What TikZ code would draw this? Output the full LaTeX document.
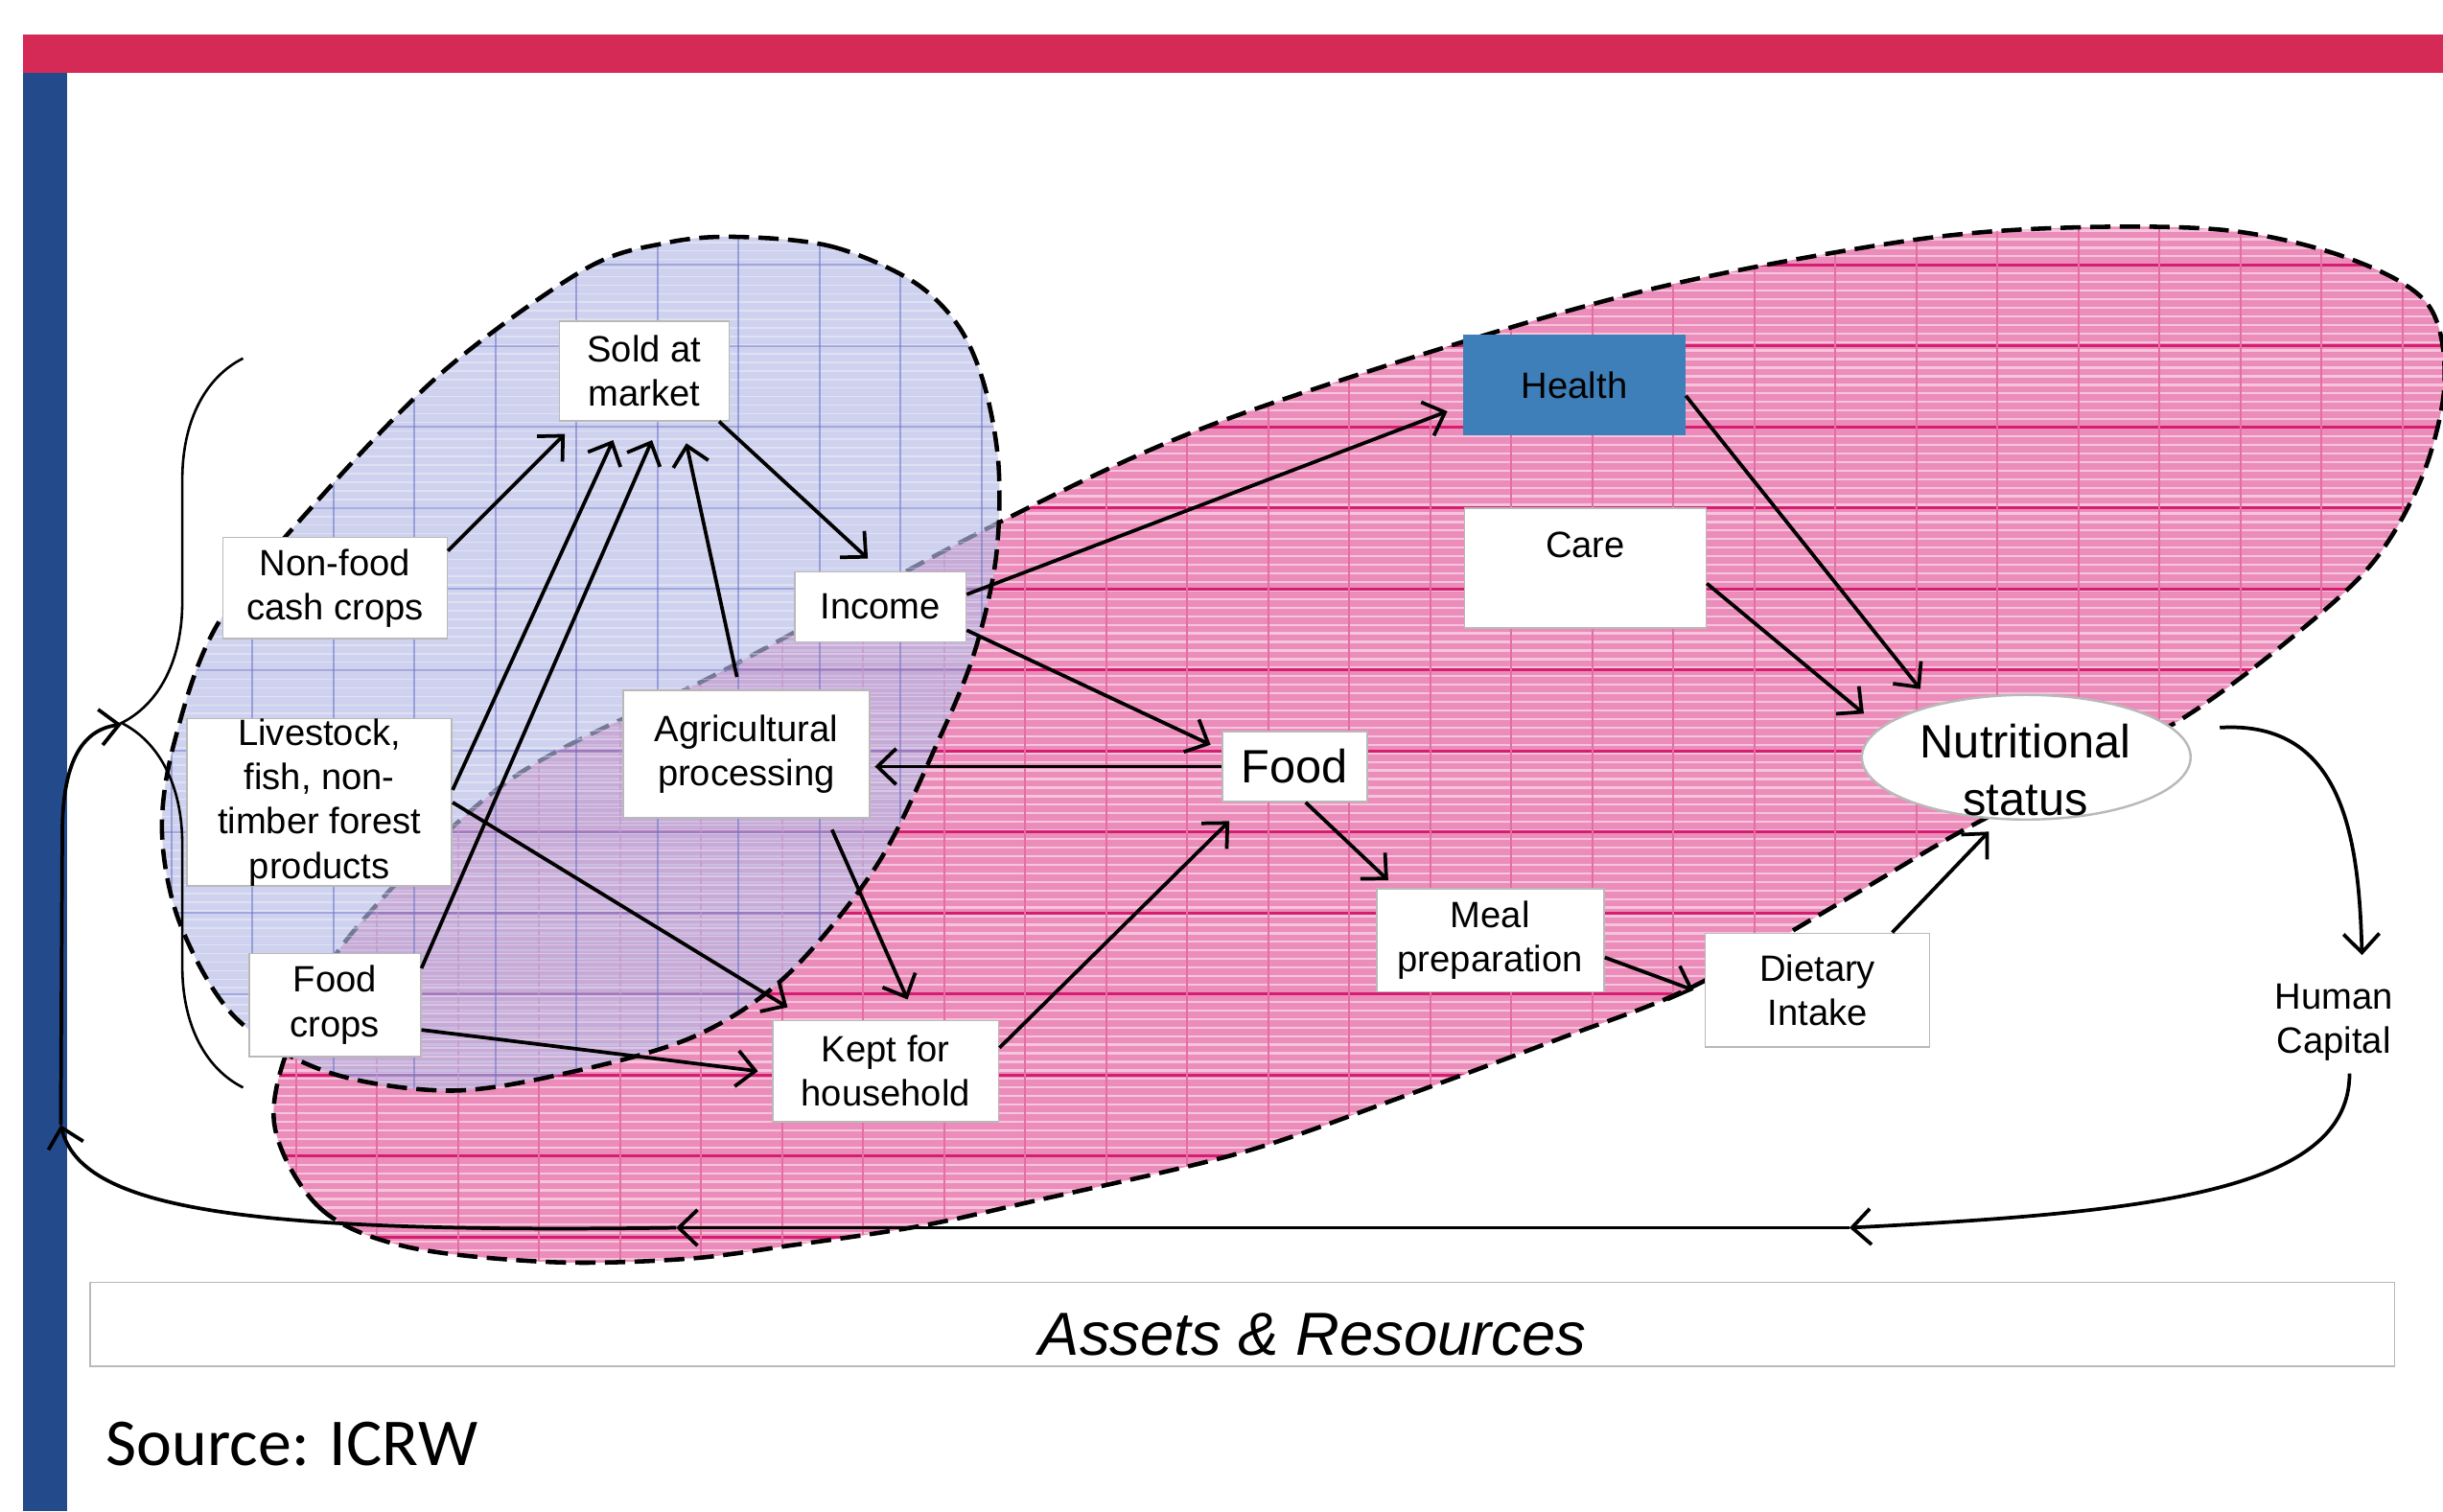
\documentclass[tikz,border=0pt]{standalone}
\usepackage{fontspec}
\setmainfont{Liberation Sans}
\newfontfamily\srcfont{Carlito}
\usetikzlibrary{arrows.meta,shapes.geometric,decorations.pathreplacing}

\definecolor{barred}{RGB}{214,42,86}
\definecolor{barblue}{RGB}{35,75,140}
\definecolor{healthblue}{RGB}{62,127,185}
\definecolor{pinkbase}{RGB}{236,140,186}
\definecolor{pinkline}{RGB}{214,30,112}
\definecolor{lavbase}{RGB}{182,187,230}
\definecolor{lavline}{RGB}{105,115,200}
\definecolor{boxgrey}{RGB}{185,185,185}

\newcommand\boxfont{\fontsize{23.5}{28.5}\selectfont}
\newcommand\bigfont{\fontsize{30}{37}\selectfont}

% outlines of the two zones
\newcommand\pinkzone{plot[smooth cycle, tension=0.55] coordinates {(176,721) (205,775) (260,800) (353,810) (440,808) (510,799) (590,787) (663,771) (796,740) (900,704) (1000,667) (1085,634) (1180,580) (1258,534) (1330,497) (1401,461) (1470,410) (1523,361) (1555,305) (1569,245) (1558,195) (1508,166) (1431,148) (1330,146) (1228,154) (1075,182) (937,220) (769,276) (634,339) (465,430) (328,500) (230,594) (190,660)}}
\newcommand\bluezone{plot[smooth cycle, tension=0.55] coordinates {(472,152) (533,158) (585,180) (615,209) (632,248) (641,300) (639,360) (625,420) (602,476) (563,555) (505,626) (446,665) (367,688) (289,700) (210,688) (151,653) (116,594) (104,535) (112,476) (140,400) (205,320) (285,238) (375,173) (427,156)}}

\tikzset{
  box/.style={draw=boxgrey, line width=1pt, fill=white, inner sep=2pt, align=center, font=\boxfont},
  link/.style={-{Straight Barb[length=12pt,width=23pt]}, line width=2.3pt},
  zone/.style={draw=black, line width=2.8pt, dash pattern=on 13pt off 6pt},
}

\begin{document}
\begin{tikzpicture}[x=1pt,y=-1pt]

\fill[white] (0,0) rectangle (1568,970);
\useasboundingbox (0,0) rectangle (1568,970);

\fill[barred] (15,22) rectangle (1568,47);
\fill[barblue] (15,47) rectangle (43,970);

% pink zone
\begin{scope}
  \clip (0,0) rectangle (1568,970);
  \fill[pinkbase] \pinkzone;
  \begin{scope}
    \clip \pinkzone;
    \foreach \y in {148,153.5,...,812}
      \draw[white, line width=1.4pt, opacity=.5] (170,\y) -- (1575,\y);
    \foreach \y in {170,222,...,812}
      \draw[pinkline, line width=1.6pt] (170,\y) -- (1575,\y);
    \foreach \x in {190,242,...,1575}
      \draw[pinkline!65, line width=1pt] (\x,140) -- (\x,815);
  \end{scope}
  \draw[zone] \pinkzone;
\end{scope}

% blue zone
\begin{scope}
  \clip \bluezone;
  \fill[lavbase, opacity=.65] (90,140) rectangle (660,710);
  \foreach \y in {150,155.5,...,705}
    \draw[white, line width=1pt, opacity=.35] (90,\y) -- (660,\y);
  \foreach \y in {170,222,...,705}
    \draw[lavline, line width=1pt, opacity=.45] (90,\y) -- (660,\y);
  \foreach \x in {110,162,...,660}
    \draw[lavline, line width=1pt, opacity=.55] (\x,140) -- (\x,710);
\end{scope}
\draw[zone] \bluezone;

% brace over the production boxes
\draw[line width=1.6pt, decorate, decoration={brace, amplitude=78pt}] (156,698) -- (156,230);

% boxes
\node[box, minimum width=109pt, minimum height=64pt] (sold) at (413.5,238) {Sold at\\market};
\node[box, minimum width=144pt, minimum height=65pt] (nonfood) at (215,377.5) {Non-food\\cash crops};
\node[box, inner ysep=0pt, minimum width=170pt, minimum height=106pt] (livestock) at (205,515) {Livestock,\\fish, non-\\timber forest\\products};
\node[box, minimum width=110pt, minimum height=66pt] (foodcrops) at (215,645) {Food\\crops};
\node[box, minimum width=158pt, minimum height=82pt] (agri) at (479,484) {Agricultural\\processing};
\node[box, minimum width=110pt, minimum height=45pt] (income) at (565,389.5) {Income};
\node[box, minimum width=145pt, minimum height=65pt] (kept) at (568.5,687.5) {Kept for\\household};
\node[box, minimum width=93pt, minimum height=45pt, font=\bigfont] (food) at (831,492) {Food};
\node[box, draw=healthblue, fill=healthblue, minimum width=142pt, minimum height=64pt] (health) at (1010.5,247) {Health};
\node[box, minimum width=155pt, minimum height=77pt, inner sep=4pt, text height=28pt, text depth=41pt] (care) at (1017.5,364.5) {Care};
\node[ellipse, draw=boxgrey, line width=1.5pt, fill=white, minimum width=211pt, minimum height=80pt] (nutri) at (1300.5,486) {};
\node[font=\bigfont, align=center] (nutritext) at (1300,494) {Nutritional\\status};
\node[box, minimum width=146pt, minimum height=66pt] (meal) at (956.5,603.5) {Meal\\preparation};
\node[box, minimum width=144pt, minimum height=73pt] (dietary) at (1166.5,635.5) {Dietary\\Intake};
\node[align=center, inner sep=2pt, font=\boxfont] (human) at (1498,656) {Human\\Capital};

\node[draw=boxgrey, line width=1pt, fill=white, minimum width=1479pt, minimum height=54pt, text height=40pt, font=\fontsize{39}{44}\selectfont\itshape] (assets) at (797.5,850) {\hspace*{90pt}Assets \& Resources};
\node[anchor=west, inner sep=0pt, font=\srcfont\fontsize{43}{50}\selectfont] (source) at (68,927) {Source: ICRW};

% arrows
\draw[link] ([yshift=-9pt]nonfood.north east) -- ([xshift=4pt,yshift=-8pt]sold.south west);
\draw[link] ([yshift=8pt]livestock.east) -- ([xshift=-20pt,yshift=-12pt]sold.south);
\draw[link] ([yshift=-10pt]foodcrops.north east) -- ([xshift=5pt,yshift=-12pt]sold.south);
\draw[link] ([xshift=-6pt,yshift=8pt]agri.north) -- ([xshift=27pt,yshift=-14pt]sold.south);
\draw[link] ([xshift=-7pt]sold.south east) -- ([xshift=-8pt,yshift=8pt]income.north);
\draw[link] ([yshift=8pt]income.east) -- ([xshift=-10pt,yshift=-17pt]health.west);
\draw[link] ([yshift=-15pt]income.east) -- ([xshift=-7pt,yshift=14pt]food.west);
\draw[link] (food.west) -- ([xshift=3pt,yshift=-8pt]agri.east);
\draw[link] ([xshift=55pt,yshift=-7pt]agri.south) -- ([xshift=14pt,yshift=13pt]kept.north);
\draw[link] (livestock.east) -- ([xshift=10pt,yshift=8pt]kept.north west);
\draw[link] ([yshift=-16pt]foodcrops.east) -- ([xshift=-9pt]kept.west);
\draw[link] ([yshift=15pt]kept.east) -- ([xshift=5pt,yshift=-12pt]food.south west);
\draw[link] ([xshift=7pt]food.south) -- ([xshift=8pt,yshift=5pt]meal.north west);
\draw[link] ([yshift=-11pt]meal.east) -- ([xshift=-7pt]dietary.west);
\draw[link] ([xshift=48pt]dietary.north) -- ([xshift=-24pt,yshift=-7pt]nutri.south);
\draw[link] ([yshift=-7pt]health.east) -- ([xshift=-68pt,yshift=3pt]nutri.north);
\draw[link] ([yshift=-10pt]care.east) -- ([xshift=2pt,yshift=28pt]nutri.west);
\draw[link] ([xshift=18pt,yshift=19pt]nutri.east) .. controls (1505,462) and (1514,540) .. ([xshift=18pt,yshift=16pt]human.north);

% feedback loop back to the brace
\coordinate (loopa) at (1187,788);
\coordinate (loopb) at (434,788);
\coordinate (loopc) at (39,722);
\coordinate (bracetip) at (78,465);
\draw[link] ([xshift=10pt,yshift=-6pt]human.south) .. controls (1508,765) and (1380,778) .. (loopa);
\draw[link] (loopa) -- (loopb);
\draw[link] (loopb) .. controls (150,792) and (52,775) .. (loopc);
\draw[link] (loopc) -- (40,535) .. controls (40,485) and (55,468) .. (bracetip);

\end{tikzpicture}
\end{document}
